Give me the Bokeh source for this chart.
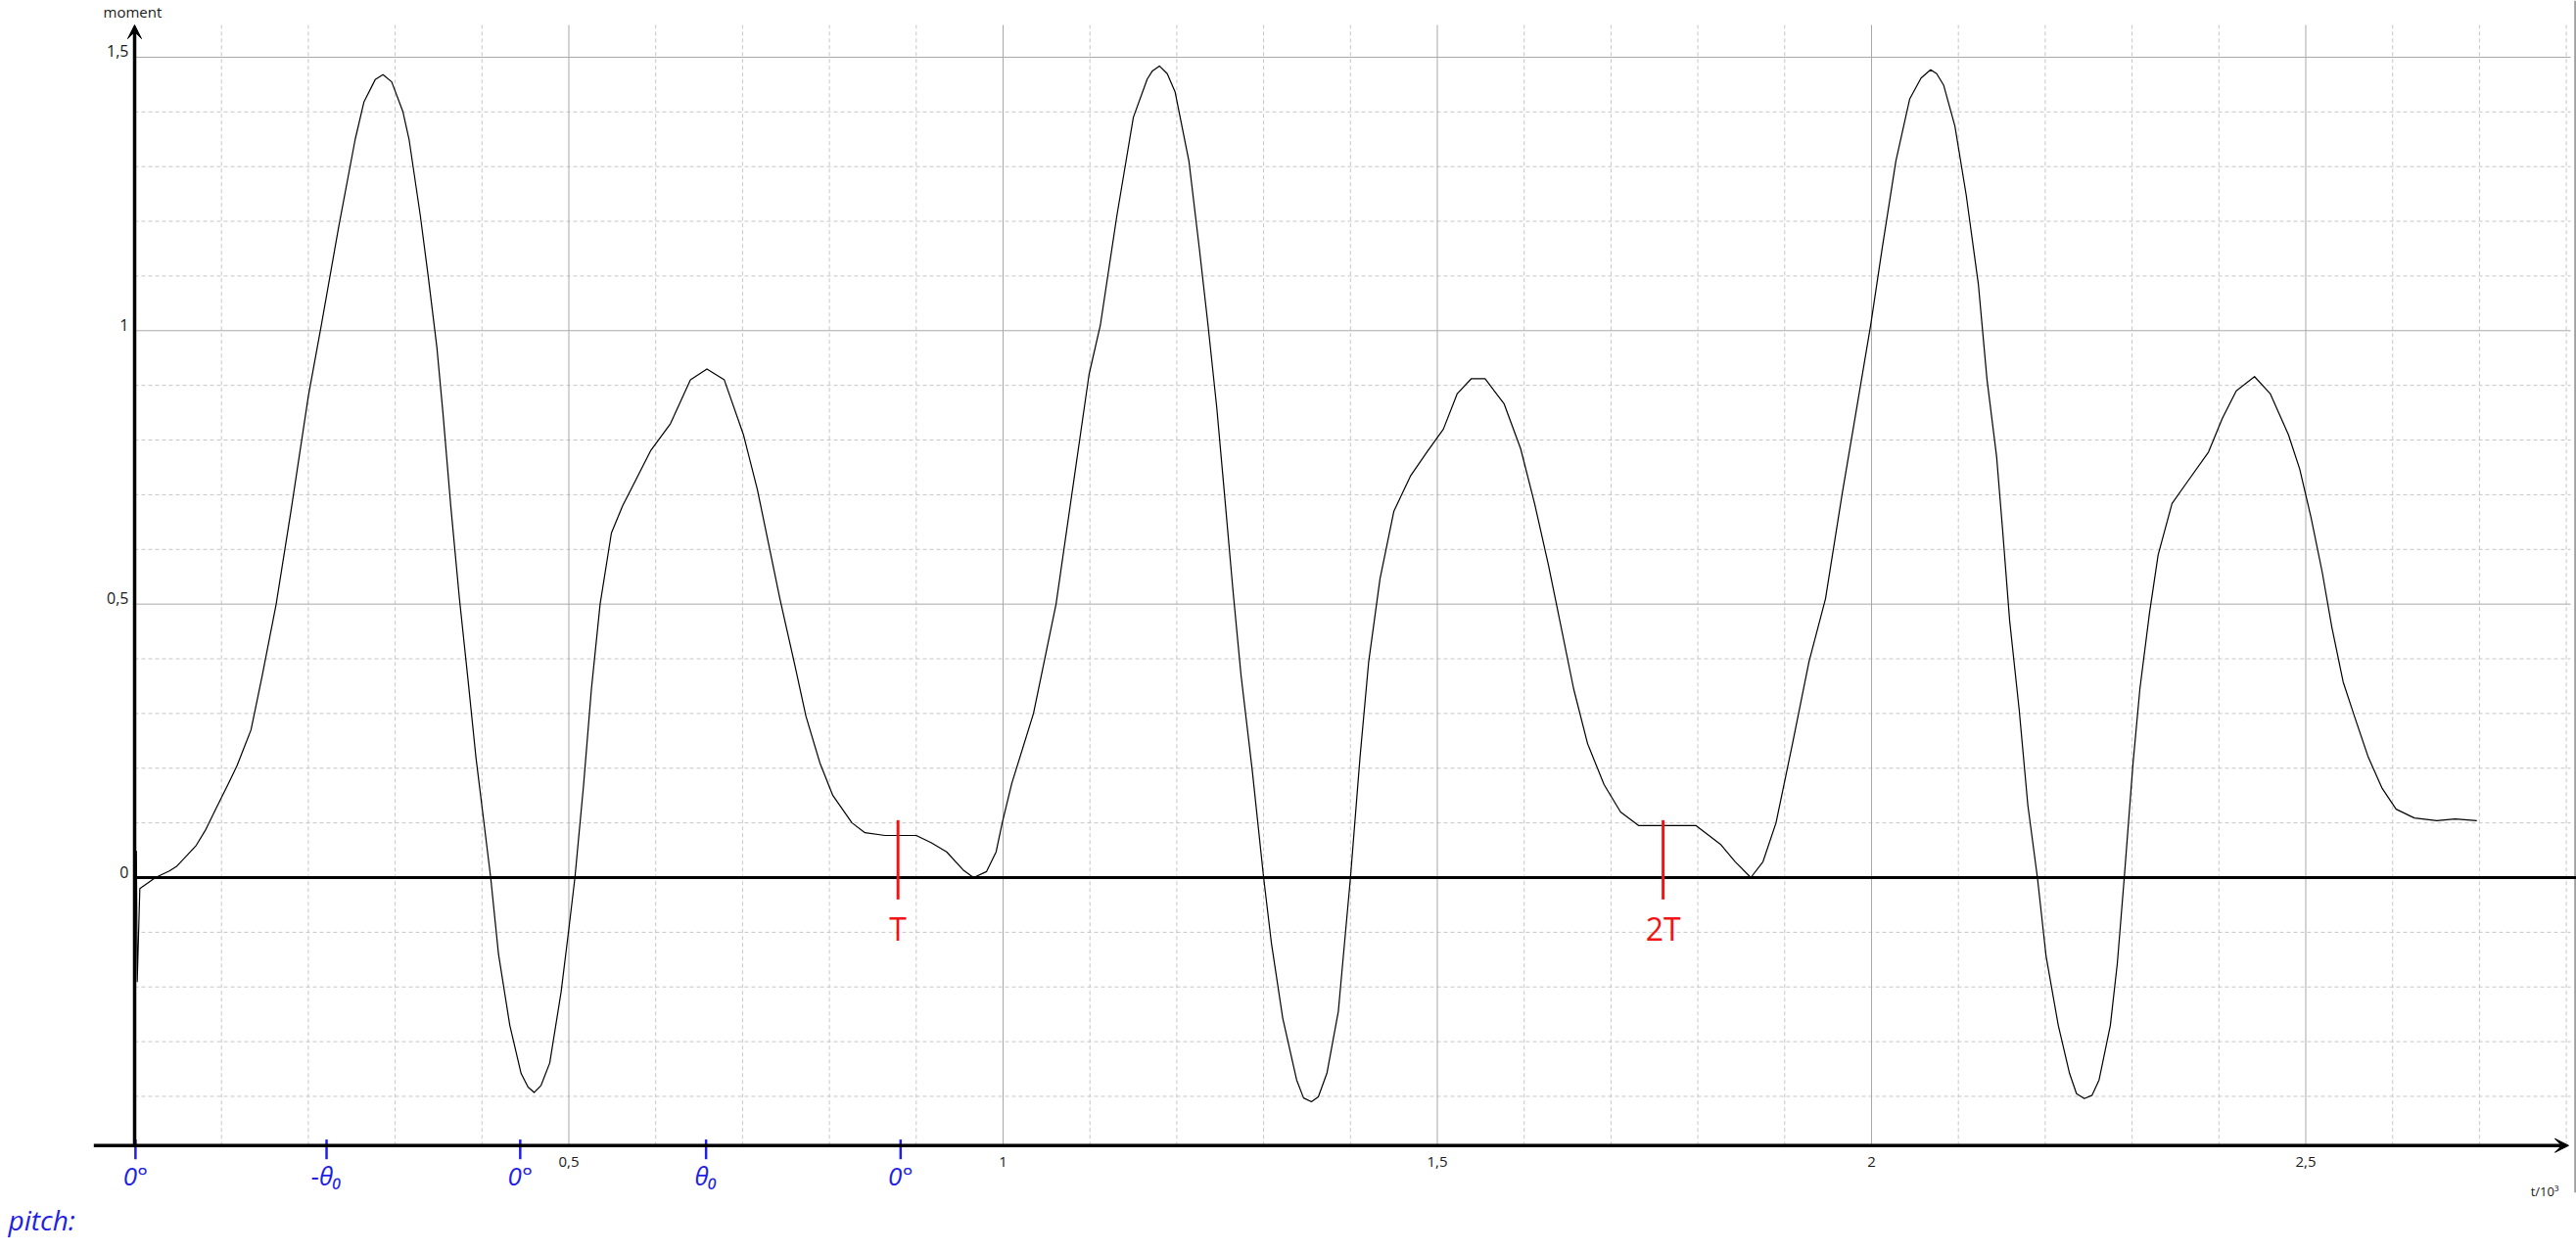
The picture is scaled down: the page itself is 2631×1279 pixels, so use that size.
from bokeh.plotting import figure
from bokeh.models import Range1d, Arrow, VeeHead, ColumnDataSource
from bokeh.core.properties import value
from bokeh.embed import file_html
from bokeh.resources import INLINE

# ---- data (t in 10^3, moment) ----
t = [0.000, 0.002, 0.003, 0.006, 0.024, 0.040, 0.048, 0.060, 0.071, 0.082, 0.094, 0.108,
     0.118, 0.134, 0.147, 0.163, 0.180, 0.200, 0.215, 0.235, 0.254, 0.264, 0.277, 0.286,
     0.296, 0.309, 0.316, 0.329, 0.338, 0.348, 0.355, 0.364, 0.374, 0.384, 0.393, 0.410,
     0.419, 0.432, 0.445, 0.453, 0.460, 0.468, 0.478, 0.491, 0.500, 0.507, 0.517, 0.526,
     0.536, 0.549, 0.562, 0.578, 0.594, 0.617, 0.640, 0.659, 0.679, 0.701, 0.717, 0.730,
     0.743, 0.760, 0.773, 0.789, 0.804, 0.826, 0.841, 0.864, 0.900, 0.917, 0.935, 0.954,
     0.966, 0.981, 0.992, 0.999, 1.010, 1.035, 1.061, 1.080, 1.099, 1.112, 1.131, 1.150,
     1.166, 1.172, 1.180, 1.189, 1.198, 1.214, 1.226, 1.236, 1.246, 1.255, 1.265, 1.274,
     1.287, 1.300, 1.309, 1.322, 1.338, 1.346, 1.355, 1.363, 1.373, 1.386, 1.400, 1.411,
     1.421, 1.434, 1.450, 1.469, 1.488, 1.507, 1.523, 1.539, 1.555, 1.577, 1.596, 1.612,
     1.628, 1.641, 1.657, 1.673, 1.692, 1.711, 1.732, 1.762, 1.798, 1.826, 1.843, 1.861,
     1.875, 1.890, 1.909, 1.928, 1.947, 1.966, 1.982, 1.999, 2.012, 2.028, 2.044, 2.057,
     2.068, 2.075, 2.083, 2.096, 2.109, 2.123, 2.133, 2.144, 2.151, 2.159, 2.170, 2.180,
     2.191, 2.201, 2.215, 2.228, 2.236, 2.245, 2.254, 2.262, 2.275, 2.283, 2.291, 2.301,
     2.309, 2.320, 2.330, 2.346, 2.362, 2.388, 2.404, 2.420, 2.441, 2.459, 2.480, 2.493,
     2.506, 2.519, 2.530, 2.543, 2.556, 2.572, 2.588, 2.604, 2.625, 2.651, 2.672, 2.697]
moment = [0.000, 0.048, -0.190, -0.020, 0.000, 0.012, 0.020, 0.040, 0.059, 0.088, 0.127, 0.172,
          0.205, 0.270, 0.370, 0.500, 0.670, 0.880, 1.010, 1.190, 1.350, 1.418, 1.459, 1.468,
          1.455, 1.400, 1.350, 1.210, 1.100, 0.970, 0.850, 0.680, 0.510, 0.360, 0.220, 0.000,
          -0.140, -0.270, -0.358, -0.383, -0.393, -0.380, -0.339, -0.210, -0.094, 0.000, 0.170, 0.345,
          0.500, 0.630, 0.680, 0.730, 0.780, 0.830, 0.910, 0.930, 0.910, 0.810, 0.710, 0.610,
          0.510, 0.390, 0.295, 0.210, 0.150, 0.100, 0.082, 0.077, 0.077, 0.064, 0.047, 0.014,
          0.000, 0.011, 0.047, 0.100, 0.172, 0.300, 0.500, 0.710, 0.920, 1.010, 1.210, 1.390,
          1.460, 1.475, 1.484, 1.470, 1.437, 1.310, 1.150, 1.010, 0.860, 0.700, 0.520, 0.370,
          0.195, 0.000, -0.120, -0.257, -0.370, -0.403, -0.410, -0.401, -0.357, -0.245, 0.000, 0.220,
          0.395, 0.546, 0.670, 0.734, 0.778, 0.820, 0.885, 0.912, 0.912, 0.866, 0.784, 0.684,
          0.571, 0.470, 0.345, 0.245, 0.170, 0.120, 0.095, 0.095, 0.095, 0.061, 0.029, 0.000,
          0.029, 0.100, 0.245, 0.395, 0.510, 0.700, 0.850, 1.010, 1.148, 1.310, 1.424, 1.462,
          1.477, 1.470, 1.449, 1.374, 1.248, 1.085, 0.910, 0.770, 0.634, 0.470, 0.307, 0.132,
          0.000, -0.144, -0.270, -0.358, -0.395, -0.404, -0.398, -0.370, -0.270, -0.157, 0.000, 0.207,
          0.345, 0.483, 0.590, 0.684, 0.720, 0.778, 0.840, 0.890, 0.916, 0.885, 0.810, 0.747,
          0.659, 0.558, 0.458, 0.358, 0.295, 0.220, 0.163, 0.125, 0.109, 0.104, 0.107, 0.104]

y_ticks = [0, 0.5, 1, 1.5]
y_tick_labels = ["0", "0,5", "1", "1,5"]
x_ticks = [0.5, 1, 1.5, 2, 2.5]
x_tick_labels = ["0,5", "1", "1,5", "2", "2,5"]
x_minor = [round(0.1 * i, 1) for i in range(1, 29) if i % 5]
y_minor = [round(0.1 * i, 1) for i in range(-4, 15) if i % 5]
y_major = [0.5, 1, 1.5]

pitch_t = [0.001, 0.221, 0.444, 0.658, 0.882]
pitch_labels = ["0°", "-θ₀", "0°", "θ₀", "0°"]
period_t = [0.879, 1.760]
period_labels = ["T", "2T"]

# ---- layout constants ----
W, H = 2631, 1279
X0, X1 = -0.15445, 2.81172
Y0, Y1 = -0.68552, 1.60373
AXIS_Y = -0.49
AXIS_TOP = 1.559
X_ARROW = 2.8027
GRID_RIGHT = 2.805
FONT = value("Open Sans")
MAJOR = "#a8a8a8"
MINOR = "#c6c6c6"

p = figure(width=W, height=H, x_range=Range1d(X0, X1), y_range=Range1d(Y0, Y1),
           x_axis_type=None, y_axis_type=None, toolbar_location=None,
           output_backend="svg", min_border=0, outline_line_color=None,
           background_fill_color="white", border_fill_color="white")

# grid lines
p.segment(x0=x_minor, y0=[AXIS_Y] * len(x_minor), x1=x_minor, y1=[AXIS_TOP] * len(x_minor),
          line_color=MINOR, line_width=1, line_dash="4 3")
p.segment(x0=[0] * len(y_minor), y0=y_minor, x1=[GRID_RIGHT] * len(y_minor), y1=y_minor,
          line_color=MINOR, line_width=1, line_dash="4 3")
p.segment(x0=x_ticks, y0=[AXIS_Y] * len(x_ticks), x1=x_ticks, y1=[AXIS_TOP] * len(x_ticks),
          line_color=MAJOR, line_width=1)
p.segment(x0=[0] * len(y_major), y0=y_major, x1=[GRID_RIGHT] * len(y_major), y1=y_major,
          line_color=MAJOR, line_width=1)
# right frame border
p.segment(x0=[X1 - 0.0015], y0=[Y1], x1=[X1 - 0.0015], y1=[-0.576],
          line_color="#a0a0a0", line_width=2)

# zero line
p.segment(x0=[0], y0=[0], x1=[X1], y1=[0], line_color="black", line_width=3)

# axes with arrows
p.add_layout(Arrow(x_start=-0.047, y_start=AXIS_Y, x_end=X_ARROW, y_end=AXIS_Y,
                   line_color="black", line_width=3.5,
                   end=VeeHead(size=14, fill_color="black", line_color="black")))
p.add_layout(Arrow(x_start=0, y_start=AXIS_Y, x_end=0, y_end=AXIS_TOP,
                   line_color="black", line_width=3.5,
                   end=VeeHead(size=14, fill_color="black", line_color="black")))

# curve
src = ColumnDataSource(dict(t=t, m=moment))
p.line("t", "m", source=src, line_color="black", line_width=1.2, line_join="round")

# tick labels
p.text(x=[0] * len(y_ticks), y=y_ticks, text=y_tick_labels, text_font=FONT,
       text_font_size="16px", text_color="#1a1a1a", text_align="right",
       text_baseline="middle", x_offset=-6, y_offset=-6)
p.text(x=x_ticks, y=[AXIS_Y] * len(x_ticks), text=x_tick_labels, text_font=FONT,
       text_font_size="15px", text_color="#1a1a1a", text_align="center",
       text_baseline="middle", y_offset=17)
p.text(x=[0], y=[Y1], text=["moment"], text_font=FONT, text_font_size="15px",
       text_color="#1a1a1a", text_align="left", text_baseline="top",
       x_offset=-32, y_offset=1)
p.text(x=[X1], y=[AXIS_Y], text=["t/10³"], text_font=FONT, text_font_size="13px",
       text_color="#1a1a1a", text_align="right", text_baseline="alphabetic",
       x_offset=-18, y_offset=47)

# blue pitch annotations
BLUE = "#1f1fe6"
p.segment(x0=pitch_t, y0=[AXIS_Y + 0.011] * len(pitch_t), x1=pitch_t,
          y1=[AXIS_Y - 0.025] * len(pitch_t), line_color=BLUE, line_width=2.5)
p.text(x=pitch_t, y=[AXIS_Y] * len(pitch_t), text=pitch_labels, text_font=FONT,
       text_font_size="26px", text_font_style="italic", text_color=BLUE,
       text_align="center", text_baseline="middle", y_offset=31)
p.text(x=[X0], y=[AXIS_Y], text=["pitch:"], text_font=FONT, text_font_size="28px",
       text_font_style="italic", text_color=BLUE, text_align="left",
       text_baseline="alphabetic", x_offset=8, y_offset=76)

# red period marks
RED = "#f01414"
p.segment(x0=period_t, y0=[0.105] * len(period_t), x1=period_t, y1=[-0.04] * len(period_t),
          line_color=RED, line_width=3)
p.text(x=period_t, y=[0] * len(period_t), text=period_labels, text_font=FONT,
       text_font_size="32px", text_color=RED, text_align="center",
       text_baseline="middle", y_offset=52)

open("out.html", "w").write(file_html(p, INLINE))
